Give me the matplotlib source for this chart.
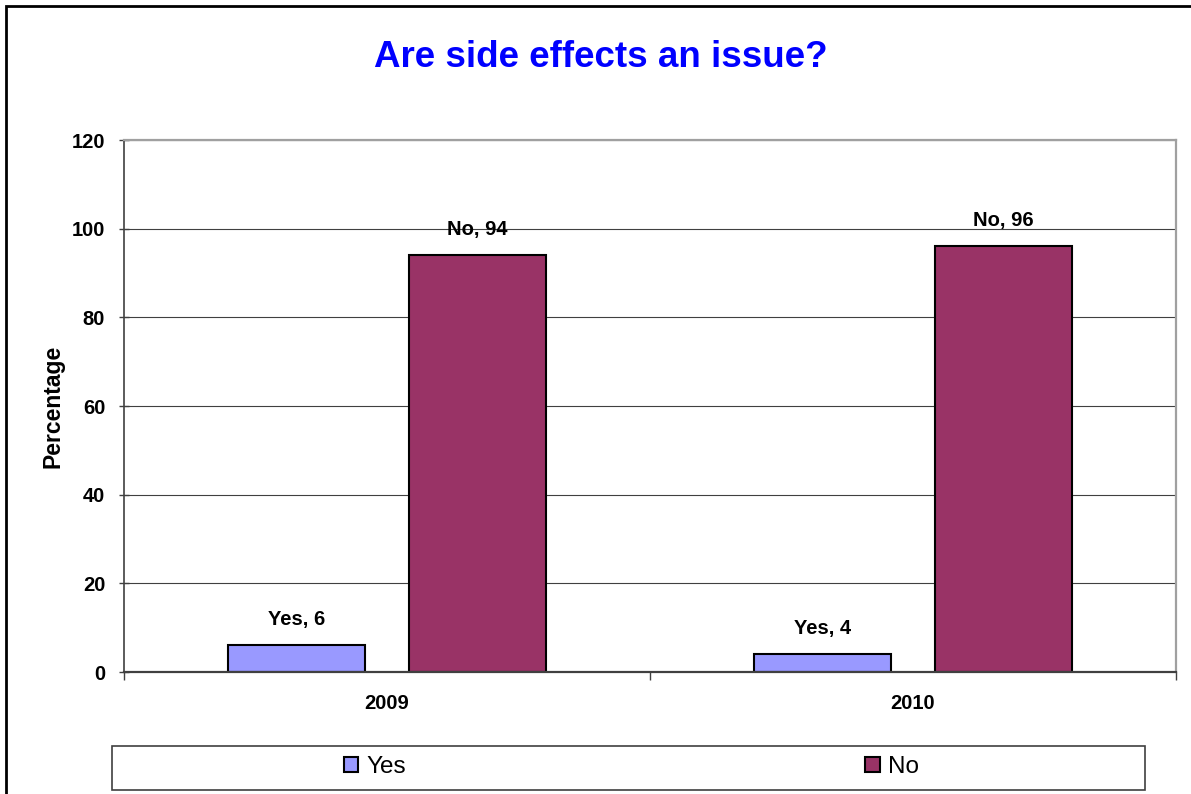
import matplotlib
matplotlib.use("Agg")
import matplotlib.pyplot as plt
from matplotlib.patches import Rectangle
import numpy as np

plt.rcParams['font.family'] = ['Liberation Sans', 'DejaVu Sans']

years = ["2009", "2010"]
series_names = ["Yes", "No"]
yes_values = [6, 4]
no_values = [94, 96]
colors = ["#9999FF", "#993366"]

W, H = 1191, 794
fig = plt.figure(figsize=(W / 100, H / 100), dpi=100)
ax = fig.add_axes([124 / W, 1 - 672 / H, (1176 - 124) / W, (672 - 140) / H])

x = np.arange(len(years))
width = 0.262
offset = 0.172

bars_yes = ax.bar(x - offset, yes_values, width, color=colors[0], edgecolor="black",
                  linewidth=1.5, label=series_names[0], zorder=3)
bars_no = ax.bar(x + offset, no_values, width, color=colors[1], edgecolor="black",
                 linewidth=1.5, label=series_names[1], zorder=3)

ax.bar_label(bars_yes, labels=[f"Yes, {v}" for v in yes_values], padding=12,
             fontsize=14.5, fontweight="bold")
ax.bar_label(bars_no, labels=[f"No, {v}" for v in no_values], padding=12,
             fontsize=14.5, fontweight="bold")

ax.set_xlim(-0.5, len(years) - 0.5)
ax.set_ylim(0, 120)
ax.set_yticks(np.arange(0, 121, 20))
ax.set_yticklabels([str(v) for v in range(0, 121, 20)], fontsize=14.5, fontweight="bold")
ax.set_xticks(x)
ax.set_xticklabels(years, fontsize=14.5, fontweight="bold")
ax.set_xticks(np.arange(-0.5, len(years), 1), minor=True)
ax.tick_params(axis="x", which="major", length=0, pad=16)
ax.tick_params(axis="x", which="minor", length=6, width=1, color="#404040", direction="out")
ax.tick_params(axis="y", which="major", length=7, width=1, color="#404040", direction="inout", pad=10)

ax.yaxis.grid(True, color="#404040", linewidth=0.8, zorder=0)
ax.set_axisbelow(True)

for side in ["top", "right"]:
    ax.spines[side].set_color("#A0A0A0")
    ax.spines[side].set_linewidth(1.6)
ax.spines["left"].set_color("#404040")
ax.spines["left"].set_linewidth(1.2)
ax.spines["bottom"].set_color("#404040")
ax.spines["bottom"].set_linewidth(1.6)
ax.spines["bottom"].set_zorder(4)

ax.set_ylabel("Percentage", fontsize=16.5, fontweight="bold")
ax.yaxis.set_label_coords(-0.057, 0.5)

fig.text(600.5 / W, 1 - 67 / H, "Are side effects an issue?", color="#0000FF",
         fontsize=26.5, fontweight="bold", ha="center", va="baseline")

# legend box
fig.add_artist(Rectangle((112 / W, 1 - 790 / H), (1145 - 112) / W, (790 - 746) / H,
                         transform=fig.transFigure, fill=False, edgecolor="#404040",
                         linewidth=1.2))
fig.legend(handles=[bars_yes, bars_no], loc="center",
           bbox_to_anchor=(631.5 / W, 1 - 767 / H), ncol=2, frameon=False,
           fontsize=17.5, borderpad=0, handlelength=0.58, handleheight=0.58,
           handletextpad=0.33, columnspacing=18.9)

# outer frame
fig.add_artist(Rectangle((6 / W, -0.1), 1.2, 1.1 - 6 / H, transform=fig.transFigure,
                         fill=False, edgecolor="black", linewidth=2))

fig.savefig("out.png", dpi=100)
